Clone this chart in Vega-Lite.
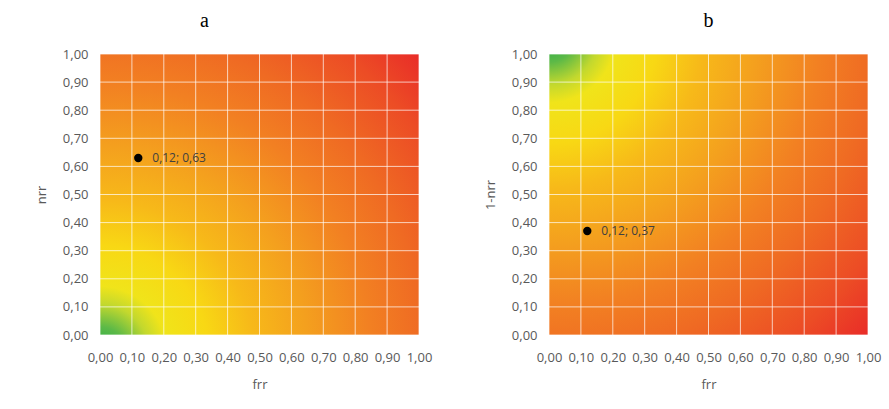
{
"$schema": "https://vega.github.io/schema/vega-lite/v6.json",
"background": "white",
"padding": {"left": 35, "top": 11, "right": 5, "bottom": 5},
"bounds": "flush",
"spacing": 130,
"config": {
  "view": {"stroke": null},
  "font": "Open Sans",
  "axis": {"grid": false, "domain": false, "ticks": false, "tickSize": 0, "labelPadding": 12, "labelFontSize": 13, "labelColor": "#595959", "labelFont": "Open Sans", "labelOverlap": false, "labelFlush": false, "titleFontSize": 13, "titleColor": "#595959", "titleFont": "Open Sans", "titleFontWeight": "normal", "values": [0, 0.1, 0.2, 0.3, 0.4, 0.5, 0.6, 0.7, 0.8, 0.9, 1], "labelExpr": "replace(format(datum.value, '.2f'), '.', ',')"},
  "axisX": {"titlePadding": 14, "labelPadding": 16},
  "axisY": {"titlePadding": 14}
},
"datasets": {
  "area": [{"x0": 0, "x1": 1, "y0": 0, "y1": 1}],
  "grid": [{"g": 0}, {"g": 0.1}, {"g": 0.2}, {"g": 0.3}, {"g": 0.4}, {"g": 0.5}, {"g": 0.6}, {"g": 0.7}, {"g": 0.8}, {"g": 0.9}, {"g": 1}],
  "pa": [{"frr": 0.12, "nrr": 0.63, "label": "0,12; 0,63"}],
  "pb": [{"frr": 0.12, "nrr": 0.37, "label": "0,12; 0,37"}]
},
"hconcat": [
{
  "title": {"text": "a", "font": "Liberation Serif", "fontSize": 20, "fontWeight": "normal", "color": "#000000", "anchor": "middle", "dx": -55, "offset": 17},
  "width": 319, "height": 281,
  "layer": [
    {"data": {"name": "area"},
     "mark": {"type": "rect", "fill": {"gradient": "radial", "x1": 0, "y1": 1, "r1": 0, "x2": 0, "y2": 1, "r2": 1.414,
        "stops": [
          {"offset": 0, "color": "#1aa84c"},
          {"offset": 0.06, "color": "#5cb947"},
          {"offset": 0.11, "color": "#c2d82e"},
          {"offset": 0.15, "color": "#f0e41a"},
          {"offset": 0.24, "color": "#f8d814"},
          {"offset": 0.34, "color": "#f7b919"},
          {"offset": 0.46, "color": "#f4a01e"},
          {"offset": 0.6, "color": "#f28022"},
          {"offset": 0.72, "color": "#ef6a23"},
          {"offset": 0.86, "color": "#ec4c25"},
          {"offset": 1, "color": "#e82429"}
        ]}},
     "encoding": {
       "x": {"field": "x0", "type": "quantitative", "scale": {"domain": [0, 1], "nice": false}, "axis": {"title": "frr"}},
       "x2": {"field": "x1"},
       "y": {"field": "y0", "type": "quantitative", "scale": {"domain": [0, 1], "nice": false}, "axis": {"title": "nrr"}},
       "y2": {"field": "y1"}
     }},
    {"data": {"name": "grid"}, "mark": {"type": "rule", "color": "#ffffff", "opacity": 0.7, "strokeWidth": 1},
     "encoding": {"x": {"field": "g", "type": "quantitative"}}},
    {"data": {"name": "grid"}, "mark": {"type": "rule", "color": "#ffffff", "opacity": 0.7, "strokeWidth": 1},
     "encoding": {"y": {"field": "g", "type": "quantitative"}}},
    {"data": {"name": "pa"}, "mark": {"type": "circle", "size": 70, "color": "#000000", "opacity": 1},
     "encoding": {"x": {"field": "frr", "type": "quantitative"}, "y": {"field": "nrr", "type": "quantitative"}}},
    {"data": {"name": "pa"}, "mark": {"type": "text", "align": "left", "baseline": "middle", "dx": 14, "fontSize": 12, "font": "Open Sans", "color": "#404040"},
     "encoding": {"x": {"field": "frr", "type": "quantitative"}, "y": {"field": "nrr", "type": "quantitative"}, "text": {"field": "label"}}}
  ]
},
{
  "title": {"text": "b", "font": "Liberation Serif", "fontSize": 20, "fontWeight": "normal", "color": "#000000", "anchor": "middle", "dx": 0, "offset": 17},
  "width": 319, "height": 281,
  "layer": [
    {"data": {"name": "area"},
     "mark": {"type": "rect", "fill": {"gradient": "radial", "x1": 0, "y1": 0, "r1": 0, "x2": 0, "y2": 0, "r2": 1.414,
        "stops": [
          {"offset": 0, "color": "#1aa84c"},
          {"offset": 0.06, "color": "#5cb947"},
          {"offset": 0.11, "color": "#c2d82e"},
          {"offset": 0.15, "color": "#f0e41a"},
          {"offset": 0.24, "color": "#f8d814"},
          {"offset": 0.34, "color": "#f7b919"},
          {"offset": 0.46, "color": "#f4a01e"},
          {"offset": 0.6, "color": "#f28022"},
          {"offset": 0.72, "color": "#ef6a23"},
          {"offset": 0.86, "color": "#ec4c25"},
          {"offset": 1, "color": "#e82429"}
        ]}},
     "encoding": {
       "x": {"field": "x0", "type": "quantitative", "scale": {"domain": [0, 1], "nice": false}, "axis": {"title": "frr"}},
       "x2": {"field": "x1"},
       "y": {"field": "y0", "type": "quantitative", "scale": {"domain": [0, 1], "nice": false}, "axis": {"title": "1-nrr"}},
       "y2": {"field": "y1"}
     }},
    {"data": {"name": "grid"}, "mark": {"type": "rule", "color": "#ffffff", "opacity": 0.7, "strokeWidth": 1},
     "encoding": {"x": {"field": "g", "type": "quantitative"}}},
    {"data": {"name": "grid"}, "mark": {"type": "rule", "color": "#ffffff", "opacity": 0.7, "strokeWidth": 1},
     "encoding": {"y": {"field": "g", "type": "quantitative"}}},
    {"data": {"name": "pb"}, "mark": {"type": "circle", "size": 70, "color": "#000000", "opacity": 1},
     "encoding": {"x": {"field": "frr", "type": "quantitative"}, "y": {"field": "nrr", "type": "quantitative"}}},
    {"data": {"name": "pb"}, "mark": {"type": "text", "align": "left", "baseline": "middle", "dx": 14, "fontSize": 12, "font": "Open Sans", "color": "#404040"},
     "encoding": {"x": {"field": "frr", "type": "quantitative"}, "y": {"field": "nrr", "type": "quantitative"}, "text": {"field": "label"}}}
  ]
}
]
}
